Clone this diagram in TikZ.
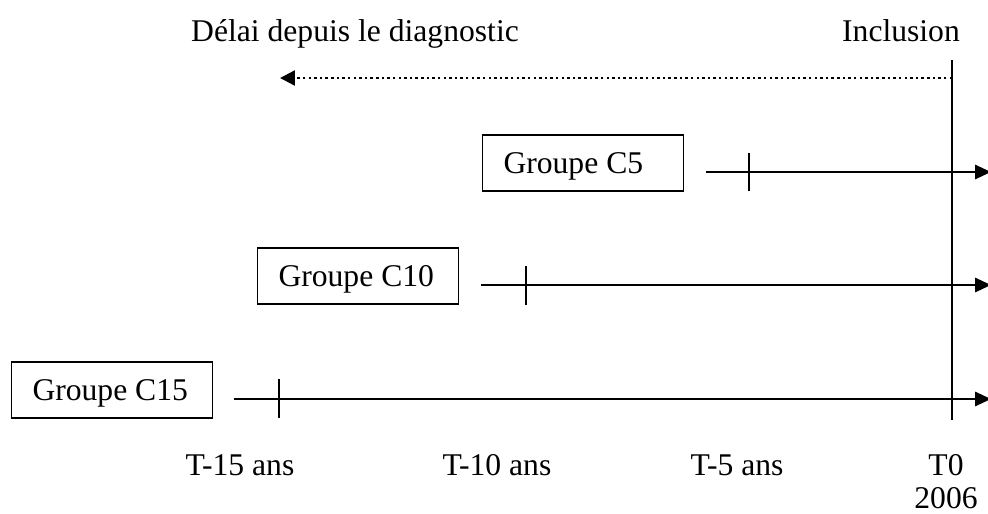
\documentclass[tikz,border=0pt]{standalone}
\usepackage{fontspec}
\setmainfont{Liberation Serif}
\usetikzlibrary{arrows.meta}

\begin{document}
\begin{tikzpicture}[x=0.02cm, y=-0.02cm, every node/.style = {font=\fontsize{18}{21}\selectfont},
    label/.style = {anchor=base, inner sep=0pt},
    groupbox/.style = {draw, line width=1pt, align=flush left, text width=159*0.02cm, inner xsep=21*0.02cm,
        text height=12pt, text depth=0pt, minimum height=56*0.02cm},
    timeline/.style = {line width=1.4pt, -{Triangle[length=9pt, width=8pt]}},
    tick/.style = {line width=1pt}]
    \useasboundingbox (0, 0) rectangle (988, 514);
    % titles
    \node[label] (delai) at (355, 41) {Délai depuis le diagnostic};
    \node[label] (incl) at (901, 41) {Inclusion};
    % inclusion axis
    \coordinate (t0top) at (952, 60);
    \coordinate (t0bot) at (952, 420);
    \draw[line width=1pt] (t0top) -- (t0bot);
    \coordinate (dotstart) at (952, 78);
    \coordinate (dotend) at (280, 78);
    \draw[line width=1.4pt, dash pattern=on 1.4pt off 1.8pt, -{Triangle[length=8.5pt, width=8.5pt]}] (dotstart) -- (dotend);
    % groups
    \node[groupbox] (c5) at (583, 163) {Groupe C5};
    \node[groupbox] (c10) at (358, 276) {Groupe C10};
    \node[groupbox] (c15) at (112, 390) {Groupe C15};
    \coordinate (s5) at (706, 172);
    \coordinate (e5) at (991, 172);
    \coordinate (s10) at (481, 285);
    \coordinate (e10) at (991, 285);
    \coordinate (s15) at (234, 399);
    \coordinate (e15) at (991, 399);
    \draw[timeline] (s5) -- (e5);
    \draw[timeline] (s10) -- (e10);
    \draw[timeline] (s15) -- (e15);
    % ticks
    \draw[tick] (749, 153) -- (749, 191);
    \draw[tick] (526, 266) -- (526, 305);
    \draw[tick] (279, 379) -- (279, 418);
    % years
    \node[label] (y15) at (240, 475) {T-15 ans};
    \node[label] (y10) at (497, 475) {T-10 ans};
    \node[label] (y5) at (737, 475) {T-5 ans};
    \node[label] (y0) at (946, 475) {T0};
    \node[label] (yr) at (946, 508) {2006};
\end{tikzpicture}
\end{document}
